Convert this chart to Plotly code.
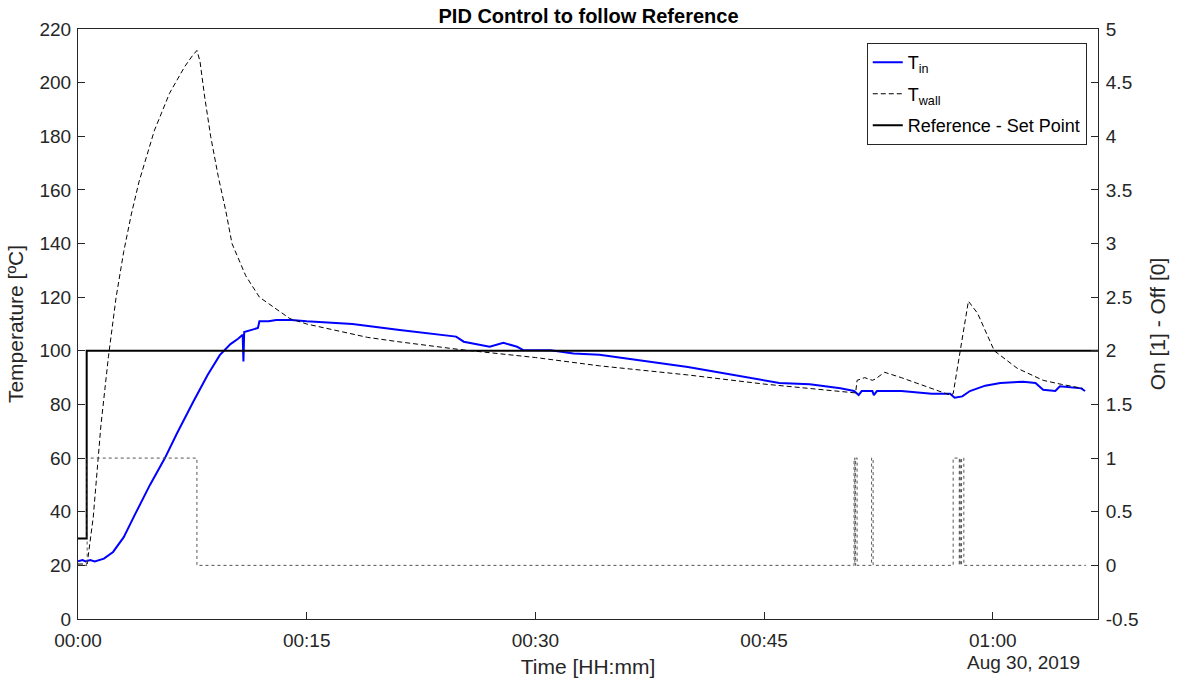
import pandas as pd
import plotly.graph_objects as go

# ---- data (minutes since 00:00, values) ----
tin_t = [0, 0.3, 0.5, 0.8, 1.1, 1.7, 2.3, 3.0, 3.74, 4.72, 5.7, 6.47, 7.56, 8.5,
         9.3, 10.0, 10.5, 10.8, 10.85, 10.9, 11.5, 11.8, 11.9, 12.5, 13.0, 14.0, 15.0, 18.0,
         21.1, 23.0, 24.8, 25.3, 27.0, 27.9, 28.8, 29.2, 31.0, 32.5, 34.2, 40.0, 45.0, 46.0, 48.0, 50.0,
         50.9, 51.2, 51.4, 52.1, 52.2, 52.4, 54.0, 56.0, 57.2, 57.5, 58.0, 58.5, 59.5, 60.5, 62.0, 62.8,
         63.3, 64.1, 64.4, 65.8, 66.05]
tin_v = [21.5, 22, 21.5, 22, 21.5, 22.5, 25, 30.5, 39, 50, 60, 69, 81, 91,
         98.4, 102.5, 104.5, 106, 96, 107, 108, 108.5, 111, 111, 111.5, 111.5, 111, 110,
         107.8, 106.5, 105.3, 103.4, 101.5, 103, 101.5, 100.3, 100.2, 99, 98.5, 94, 89, 88, 87.5, 86,
         85, 83.5, 85, 85, 83.5, 85, 85, 84, 84, 82.5, 83, 85, 87, 88, 88.5, 88,
         85.5, 85, 86.8, 86, 85]

twall_t = [0, 0.6, 1.0, 1.5, 2.0, 2.5, 3.0, 3.5, 4.0, 4.5, 5.0, 5.5, 6.0, 6.5, 7.0, 7.5, 7.8, 8.0,
           8.3, 8.7, 9.2, 9.7, 10.1, 11.0, 11.9, 12.4, 13.9, 15.0, 17.0, 19.0, 21.0, 25.0, 30.0, 34.2,
           40.0, 45.0, 51.0, 51.1, 51.6, 52.1, 52.3, 52.9, 54.0, 55.5, 57.2, 57.4, 57.85, 58.4, 59.0,
           60.1, 61.6, 63.3, 64.5, 65.9]
twall_v = [20.5, 20.5, 38, 72, 98, 120, 137, 151, 163, 173, 182, 189, 196, 201, 206, 210, 212, 208,
           195, 180, 165, 152, 140, 128, 120, 118, 112, 110, 107.5, 105, 103.4, 100.5, 97.5, 94.4,
           91, 87.6, 84.3, 89, 90, 89, 89.5, 92, 90, 87, 83.5, 84, 100, 118.5, 114,
           100, 93.5, 89, 87.5, 86]

ref_t = [0, 0.57, 66.9]
ref_v = [30, 100, 100]

onoff_t = [0, 0.6, 7.8, 50.9, 50.95, 51.0, 51.1, 52.05, 52.15, 57.4, 57.8, 57.83, 57.9, 57.95, 58.1, 66.1]
onoff_v = [0, 1, 0, 1, 0, 1, 0, 1, 0, 1, 0, 1, 0, 1, 0, 0]

left_ticks = list(range(0, 221, 20))
right_ticks = [-0.5, 0, 0.5, 1, 1.5, 2, 2.5, 3, 3.5, 4, 4.5, 5]
right_tick_text = ["-0.5", "0", "0.5", "1", "1.5", "2", "2.5", "3", "3.5", "4", "4.5", "5"]
x_tick_min = [0, 15, 30, 45, 60]

base = pd.Timestamp("2019-08-30 00:00:00")


def tt(mins):
    return [base + pd.Timedelta(minutes=m) for m in mins]


FONT = "Liberation Sans, Arial, sans-serif"
AX = "#262626"

fig = go.Figure()
fig.add_trace(go.Scatter(x=tt(onoff_t), y=onoff_v, yaxis="y2", mode="lines",
                         line=dict(color="#555555", width=1, dash="dot", shape="hv"),
                         showlegend=False, hoverinfo="skip"))
fig.add_trace(go.Scatter(x=tt(tin_t), y=tin_v, mode="lines", name="T<sub>in</sub>",
                         legendgroup="a", line=dict(color="#0000ff", width=2)))
fig.add_trace(go.Scatter(x=tt(twall_t), y=twall_v, mode="lines", name="T<sub>wall</sub>",
                         legendgroup="b", line=dict(color="#000000", width=1, dash="5px,3px")))
fig.add_trace(go.Scatter(x=tt(ref_t), y=ref_v, mode="lines", name="Reference - Set Point",
                         legendgroup="c", line=dict(color="#000000", width=2, shape="hv")))

fig.update_layout(
    width=1177, height=679,
    margin=dict(l=78, r=79, t=29, b=60),
    paper_bgcolor="white", plot_bgcolor="white",
    font=dict(family=FONT, size=19, color=AX),
    title=dict(text="<b>PID Control to follow Reference</b>", x=0.5, xanchor="center",
               y=0.977, yanchor="middle", yref="container",
               font=dict(family=FONT, size=20, color="#000000")),
    xaxis=dict(type="date", range=tt([0, 66.9]), tickvals=tt(x_tick_min), tickformat="%H:%M",
               showline=True, linecolor=AX, linewidth=1, mirror=True, automargin=False,
               ticks="inside", ticklen=7, tickcolor=AX, showgrid=False, zeroline=False,
               ticklabelstandoff=4,
               title=dict(text="Time [HH:mm]", font=dict(size=21), standoff=9),
               tickfont=dict(size=19)),
    yaxis=dict(range=[0, 220], tickvals=left_ticks, showline=True, linecolor=AX, linewidth=1,
               ticks="inside", ticklen=7, tickcolor=AX, showgrid=False, zeroline=False,
               ticklabelstandoff=2, automargin=False,
               title=dict(text="Temperature [ºC]", font=dict(size=21), standoff=10),
               tickfont=dict(size=19)),
    yaxis2=dict(range=[-0.5, 5], tickvals=right_ticks, ticktext=right_tick_text, overlaying="y",
                side="right", showline=True, linecolor=AX, linewidth=1,
                ticks="inside", ticklen=7, tickcolor=AX, showgrid=False, zeroline=False,
                ticklabelstandoff=3, automargin=False,
                title=dict(text="On [1] - Off [0]", font=dict(size=21), standoff=12),
                tickfont=dict(size=19)),
    legend=dict(x=0.989, y=0.976, xanchor="right", yanchor="top", bgcolor="white",
                bordercolor=AX, borderwidth=1, font=dict(size=18, color="#000000"),
                tracegroupgap=5),
    annotations=[dict(text="Aug 30, 2019", xref="paper", yref="paper", x=0.984, y=-0.073,
                      xanchor="right", yanchor="middle", showarrow=False,
                      font=dict(size=19, color=AX))],
)

fig.write_html("out.html", config={"displayModeBar": False},
               post_script="document.body.style.margin='0';document.body.style.overflow='hidden';")
